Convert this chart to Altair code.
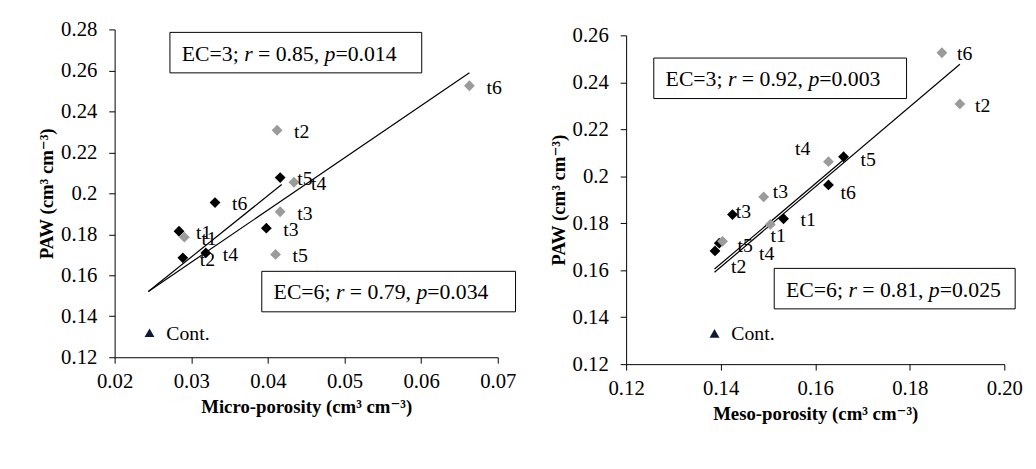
import altair as alt
import pandas as pd

FONT = "Liberation Serif, Times New Roman, DejaVu Serif, serif"
TREATS = ["t1", "t2", "t3", "t4", "t5", "t6"]
NB = "\u00a0"

# ---------------- Left panel: micro-porosity ----------------
L_X_EC3 = [0.0291, 0.0412, 0.0416, 0.0434, 0.0410, 0.0663]
L_Y_EC3 = [0.1786, 0.2308, 0.1910, 0.2054, 0.1702, 0.2525]
L_X_EC6 = [0.0284, 0.0289, 0.0398, 0.0319, 0.0416, 0.0331]
L_Y_EC6 = [0.1815, 0.1685, 0.1830, 0.1709, 0.2077, 0.1955]
L_CONT = [0.02455, 0.1320]
L_FIT3_X = [0.0244, 0.0663]
L_FIT3_Y = [0.1521, 0.2589]
L_FIT6_X = [0.0244, 0.0418]
L_FIT6_Y = [0.1521, 0.2043]
L_XTICKS = [0.02, 0.03, 0.04, 0.05, 0.06, 0.07]
L_YTICKS = [0.12, 0.14, 0.16, 0.18, 0.20, 0.22, 0.24, 0.26, 0.28]
L_STAT3 = ["EC=3; ", "r", " = 0.85, ", "p", "=0.014"]
L_STAT6 = ["EC=6; ", "r", " = 0.79, ", "p", "=0.034"]

# ---------------- Right panel: meso-porosity ----------------
R_X_EC3 = [0.1505, 0.1906, 0.1491, 0.1628, 0.1404, 0.1868]
R_Y_EC3 = [0.1795, 0.2308, 0.1912, 0.2062, 0.1723, 0.2526]
R_X_EC6 = [0.1533, 0.1388, 0.1425, 0.1397, 0.1660, 0.1628]
R_Y_EC6 = [0.1819, 0.1682, 0.1837, 0.1715, 0.2083, 0.1963]
R_CONT = [0.1387, 0.1331]
R_FIT3_X = [0.1387, 0.1906]
R_FIT3_Y = [0.1591, 0.2477]
R_FIT6_X = [0.1387, 0.1660]
R_FIT6_Y = [0.1605, 0.2070]
R_XTICKS = [0.12, 0.14, 0.16, 0.18, 0.20]
R_YTICKS = [0.12, 0.14, 0.16, 0.18, 0.20, 0.22, 0.24, 0.26]
R_STAT3 = ["EC=3; ", "r", " = 0.92, ", "p", "=0.003"]
R_STAT6 = ["EC=6; ", "r", " = 0.81, ", "p", "=0.025"]

# label nudges (pixels, label centre relative to point)
L_NUDGE3 = [(25, 2)] * 6
L_NUDGE6 = [(25, 2)] * 6
R_NUDGE3 = [(8, 12), (23, 2), (17, -5), (-26, -13), (23, 5), (23, 1)]
R_NUDGE6 = [(25, 1), (24, 16), (11, -3), (48, 11), (25, 3), (20, 8)]

GRAY = "#9b9b9b"
NAVY = "#101838"

REG = {"E": 611, "C": 667, "=": 564, ";": 278, " ": 250, ".": 250, ",": 250}
ITAL = {"r": 389, "p": 500}
BOX_FS = 22


def seg_width(s, italic):
    w = 0
    for ch in s:
        w += (ITAL.get(ch, 500) if italic else REG.get(ch, 500))
    return w / 1000 * BOX_FS


def stat_box(parts, x0, y0, x1, y1):
    layers = [
        alt.Chart(pd.DataFrame({"a": [0]}))
        .mark_rect(fill="white", stroke="black", strokeWidth=1)
        .encode(x=alt.value(x0), x2=alt.value(x1), y=alt.value(y0), y2=alt.value(y1))
    ]
    cx = x0 + 12
    cy = (y0 + y1) / 2 + 1
    for i, s in enumerate(parts):
        it = i in (1, 3)
        body = s.lstrip(" ")
        lead = len(s) - len(body)
        sx = cx + lead * REG[" "] / 1000 * BOX_FS
        layers.append(
            alt.Chart(pd.DataFrame({"a": [0]}))
            .mark_text(font=FONT, fontSize=BOX_FS, align="left", baseline="middle",
                       fontStyle="italic" if it else "normal", color="black")
            .encode(x=alt.value(sx), y=alt.value(cy),
                    text=alt.value(body.rstrip(" ").replace(" ", NB)))
        )
        cx += seg_width(s, it)
    return layers


def panel(x3, y3, x6, y6, cont, f3x, f3y, f6x, f6y, n3, n6, xticks, yticks,
          xfmt, xtitle, w, h, top, boxes):
    # 'top' = empty pixels above the y-axis inside the plot area
    xd = [xticks[0], xticks[-1]]
    yd = [yticks[0], yticks[-1]]
    kx = w / (xd[1] - xd[0])
    ky = (h - top) / (yd[1] - yd[0])
    xs = alt.Scale(domain=xd, nice=False, zero=False)
    ys = alt.Scale(domain=yd, nice=False, zero=False, range=[h, top])
    xax = alt.Axis(values=xticks, labelExpr=f"format(datum.value, '{xfmt}')",
                   title=xtitle, labelFlush=False, labelPadding=8, titlePadding=6)
    yax = alt.Axis(values=yticks, labelExpr="format(datum.value, '~g')",
                   title="PAW (cm³ cm⁻³)", labelPadding=12, titlePadding=4)
    X = lambda f: alt.X(f, type="quantitative", scale=xs, axis=xax)
    Y = lambda f: alt.Y(f, type="quantitative", scale=ys, axis=yax)

    fits = pd.DataFrame({"x": f3x + f6x, "y": f3y + f6y,
                         "g": ["EC3"] * 2 + ["EC6"] * 2})
    p3 = pd.DataFrame({"x": x3, "y": y3, "t": TREATS})
    p6 = pd.DataFrame({"x": x6, "y": y6, "t": TREATS})
    lab = pd.DataFrame({
        "x": [a + d[0] / kx for a, d in zip(x3 + x6, n3 + n6)],
        "y": [b - d[1] / ky for b, d in zip(y3 + y6, n3 + n6)],
        "t": TREATS + TREATS,
    })
    cdf = pd.DataFrame({"x": [cont[0]], "y": [cont[1]], "t": ["Cont."]})

    lines = alt.Chart(fits).mark_line(color="black", strokeWidth=1.2).encode(
        x=X("x"), y=Y("y"), detail="g:N")
    g = alt.Chart(p3).mark_point(shape="diamond", filled=True, size=120,
                                 color=GRAY, opacity=1).encode(x=X("x"), y=Y("y"))
    b = alt.Chart(p6).mark_point(shape="diamond", filled=True, size=120,
                                 color="black", opacity=1).encode(x=X("x"), y=Y("y"))
    c = alt.Chart(cdf).mark_point(shape="triangle-up", filled=True, size=100,
                                  color=NAVY, opacity=1).encode(x=X("x"), y=Y("y"))
    ct = alt.Chart(cdf).mark_text(font=FONT, fontSize=20, align="left",
                                  baseline="middle", dx=17, dy=1, color="black").encode(
        x=X("x"), y=Y("y"), text="t:N")
    lt = alt.Chart(lab).mark_text(font=FONT, fontSize=20, align="center",
                                  baseline="middle", color="black").encode(
        x=X("x"), y=Y("y"), text="t:N")
    layers = [lines, b, g, c, ct, lt]
    for parts, x0, y0, x1, y1 in boxes:
        layers += stat_box(parts, x0, y0 + top, x1, y1 + top)
    return alt.layer(*layers).properties(width=w, height=h)


left = panel(L_X_EC3, L_Y_EC3, L_X_EC6, L_Y_EC6, L_CONT, L_FIT3_X, L_FIT3_Y,
             L_FIT6_X, L_FIT6_Y, L_NUDGE3, L_NUDGE6, L_XTICKS, L_YTICKS, ".2f",
             "Micro-porosity (cm³ cm⁻³)", 388, 332, 0,
             [(L_STAT3, 56, 3, 311, 44), (L_STAT6, 149, 245, 406, 286)])
right = panel(R_X_EC3, R_Y_EC3, R_X_EC6, R_Y_EC6, R_CONT, R_FIT3_X, R_FIT3_Y,
              R_FIT6_X, R_FIT6_Y, R_NUDGE3, R_NUDGE6, R_XTICKS, R_YTICKS, ".2f",
              "Meso-porosity (cm³ cm⁻³)", 383, 339, 6,
              [(R_STAT3, 28, 23, 284, 64), (R_STAT6, 150, 236, 394, 277)])

chart = alt.hconcat(left, right, spacing=33).properties(
    padding={"left": 30, "top": 8, "right": 5, "bottom": 5},
    background="white",
).configure_view(stroke=None).configure_axis(
    labelFont=FONT, labelFontSize=21, labelColor="black",
    titleFont=FONT, titleFontSize=19, titleFontWeight="bold", titleColor="black",
    domainColor="black", tickColor="black", tickSize=6, grid=False,
)

chart.save("out.html", embed_options={"renderer": "svg", "actions": False})
